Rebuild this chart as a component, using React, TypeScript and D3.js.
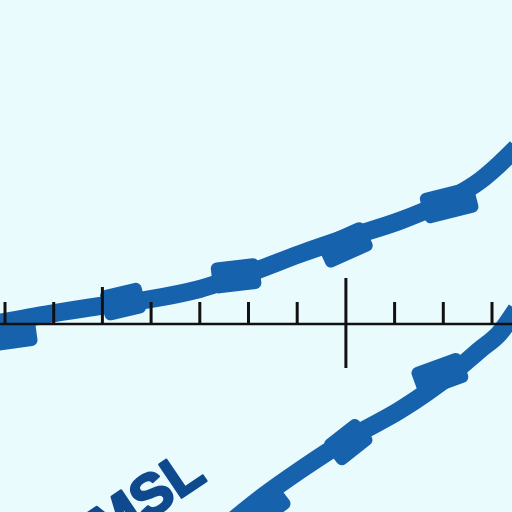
import React from "react";
import * as d3 from "d3";

// Axis ticks (unitless scale positions)
const tickValues = [-7, -6, -5, -4, -3, -2, -1, 0, 1, 2, 3];
const majorTick = 0;
const mediumTick = -5;

// Upper curve
const upperX = [-7.25, -6.08, -5.05, -4.02, -3, -1.97, -0.94, 0.08, 1.11, 2.14, 2.75, 3.16, 3.5];
const upperY = [0.0, 0.21, 0.37, 0.51, 0.72, 1.05, 1.44, 1.79, 2.12, 2.57, 2.94, 3.29, 3.62];

// Lower curve
const lowerX = [-2.4, -1.66, -0.94, 0.08, 1.11, 2.14, 2.75, 3.16, 3.5];
const lowerY = [-4.1, -3.51, -3.0, -2.34, -1.77, -1.05, -0.53, -0.18, 0.3];

// Thick segments ("blocks") along the curves: start / end points
const upperBlockX0 = [-7.39, -5.0, -2.75, -0.5, 1.57];
const upperBlockY0 = [-0.26, 0.36, 0.93, 1.41, 2.35];
const upperBlockX1 = [-6.36, -4.15, -1.76, 0.46, 2.67];
const upperBlockY1 = [-0.12, 0.56, 1.05, 1.84, 2.63];

const lowerBlockX0 = [-2.02, -0.3, 1.42];
const lowerBlockY0 = [-4.02, -2.7, -1.23];
const lowerBlockX1 = [-1.28, 0.4, 2.44];
const lowerBlockY1 = [-3.46, -2.15, -0.86];

const label = "MSL";

const W = 512;
const H = 512;
const BG = "#e9fbfd";
const BLUE = "#1762ac";
const TEXT = "#0e4a8d";

export default function App() {
  const x = d3.scaleLinear().domain([-7, 3]).range([5, 492]);
  const y = d3.scaleLinear().domain([-4, 4]).range([518.8, 129.2]);

  const line = d3
    .line<[number, number]>()
    .x((d) => x(d[0]))
    .y((d) => y(d[1]))
    .curve(d3.curveMonotoneX);

  const upperPts = upperX.map((v, i) => [v, upperY[i]] as [number, number]);
  const lowerPts = lowerX.map((v, i) => [v, lowerY[i]] as [number, number]);

  const blocks = [
    ...upperBlockX0.map((v, i) => ({ x0: v, y0: upperBlockY0[i], x1: upperBlockX1[i], y1: upperBlockY1[i] })),
    ...lowerBlockX0.map((v, i) => ({ x0: v, y0: lowerBlockY0[i], x1: lowerBlockX1[i], y1: lowerBlockY1[i] })),
  ];

  const thick = 31;
  const axisY = y(0);

  return (
    <svg
      width={W}
      height={H}
      style={{ position: "absolute", left: 0, top: 0, display: "block" }}
    >
      <rect x={0} y={0} width={W} height={H} fill={BG} />
      <path d={line(upperPts) || ""} fill="none" stroke={BLUE} strokeWidth={18} />
      <path d={line(lowerPts) || ""} fill="none" stroke={BLUE} strokeWidth={18} />
      {blocks.map((b, i) => {
        const px0 = x(b.x0), py0 = y(b.y0), px1 = x(b.x1), py1 = y(b.y1);
        const len = Math.hypot(px1 - px0, py1 - py0);
        const ang = (Math.atan2(py1 - py0, px1 - px0) * 180) / Math.PI;
        const cx = (px0 + px1) / 2, cy = (py0 + py1) / 2;
        return (
          <rect
            key={i}
            x={-len / 2}
            y={-thick / 2}
            width={len}
            height={thick}
            rx={6}
            fill={BLUE}
            transform={`translate(${cx},${cy}) rotate(${ang})`}
          />
        );
      })}
      <text
        x={0}
        y={0}
        transform="translate(208,480) rotate(-34)"
        textAnchor="end"
        fontFamily="'Liberation Sans', Arial, sans-serif"
        fontWeight="bold"
        fontSize={58}
        fill={TEXT}
        stroke={TEXT}
        strokeWidth={2.5}
        strokeLinejoin="round"
      >
        {label}
      </text>
      <line x1={0} x2={W} y1={axisY} y2={axisY} stroke="#111" strokeWidth={2.6} />
      {tickValues.map((t) => {
        const tx = x(t);
        const up = t === majorTick ? 46 : t === mediumTick ? 37 : 22;
        const down = t === majorTick ? 44 : 0;
        return (
          <line
            key={t}
            x1={tx}
            x2={tx}
            y1={axisY - up}
            y2={axisY + down}
            stroke="#111"
            strokeWidth={3}
          />
        );
      })}
    </svg>
  );
}
